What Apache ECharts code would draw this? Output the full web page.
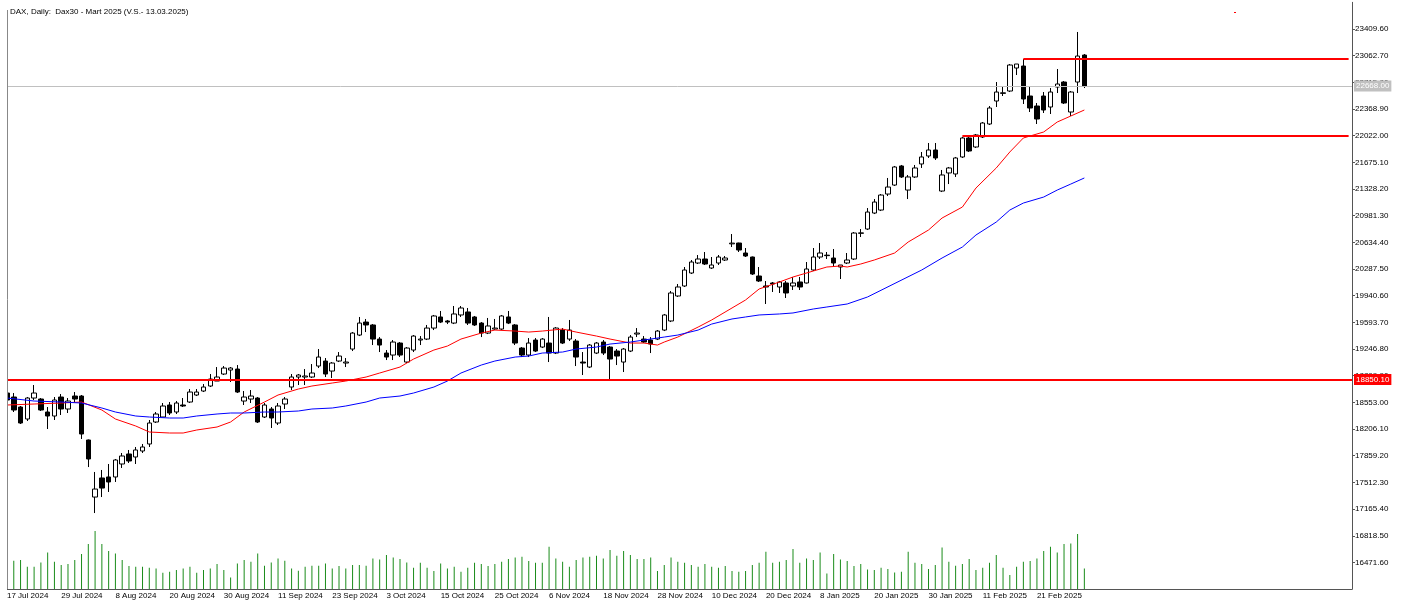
<!DOCTYPE html>
<html>
<head>
<meta charset="utf-8">
<title>DAX Daily</title>
<script src="https://cdn.jsdelivr.net/npm/echarts@6/dist/echarts.min.js"></script>
<style>
  html, body { margin: 0; padding: 0; background: #fff; }
  #chart { width: 1402px; height: 605px; }
</style>
</head>
<body>
<div id="chart"></div>
<script>
// daily OHLC, 17 Jul 2024 .. 4 Mar 2025
var open = [
  18675, 18623, 18493, 18337, 18610, 18597, 18428, 18376, 18623, 18467,
  18636, 18636, 18064, 17322, 17570, 17583, 17583, 17752, 17882, 17843,
  17921, 18012, 18298, 18363, 18519, 18428, 18519, 18558, 18649, 18701,
  18766, 18831, 18922, 18974, 18987, 18571, 18597, 18610, 18363, 18467,
  18285, 18532, 18753, 18883, 18883, 18883, 19026, 19091, 18961, 19091,
  19065, 19247, 19429, 19598, 19560, 19377, 19195, 19169, 19325, 19078,
  19234, 19364, 19377, 19520, 19664, 19612, 19585, 19690, 19729, 19664,
  19585, 19455, 19507, 19507, 19664, 19560, 19260, 19169, 19364, 19273,
  19325, 19195, 19494, 19377, 19351, 19078, 19013, 19195, 19338, 19273,
  19221, 19078, 19221, 19442, 19377, 19364, 19377, 19494, 19612, 19937,
  20067, 20236, 20366, 20418, 20301, 20366, 20405, 20615, 20626, 20496,
  20444, 20197, 20067, 20106, 20054, 20106, 20067, 20119, 20106, 20275,
  20444, 20468, 20431, 20314, 20366, 20418, 20752, 20808, 21016, 21055,
  21263, 21380, 21628, 21315, 21485, 21654, 21758, 21836, 21302, 21537,
  21524, 21745, 21992, 21875, 22005, 22174, 22473, 22572, 22603, 22902,
  22928, 22538, 22408, 22538, 22395, 22655, 22720, 22330, 22720, 23071
]
var high = [
  18688, 18675, 18506, 18623, 18779, 18610, 18493, 18623, 18662, 18610,
  18688, 18649, 18070, 17648, 17674, 17752, 17817, 17895, 17934, 17973,
  18012, 18324, 18428, 18545, 18558, 18571, 18610, 18727, 18727, 18792,
  18922, 19013, 19026, 19013, 19039, 18701, 18714, 18623, 18545, 18493,
  18545, 18623, 18922, 18922, 18987, 19052, 19247, 19130, 19078, 19208,
  19130, 19468, 19664, 19638, 19572, 19403, 19234, 19364, 19338, 19273,
  19429, 19416, 19560, 19690, 19742, 19625, 19807, 19807, 19781, 19677,
  19598, 19651, 19638, 19690, 19742, 19572, 19273, 19390, 19390, 19390,
  19664, 19533, 19520, 19625, 19377, 19208, 19312, 19338, 19364, 19286,
  19247, 19260, 19429, 19520, 19416, 19403, 19494, 19703, 20002, 20093,
  20314, 20405, 20470, 20509, 20444, 20470, 20457, 20743, 20630, 20561,
  20450, 20314, 20132, 20119, 20132, 20132, 20184, 20184, 20379, 20561,
  20626, 20509, 20548, 20340, 20496, 20769, 20808, 21081, 21198, 21263,
  21472, 21628, 21641, 21511, 21641, 21810, 21927, 21927, 21576, 21615,
  21745, 22005, 22005, 22044, 22200, 22408, 22720, 22668, 22954, 22954,
  23019, 22655, 22447, 22590, 22642, 22889, 22733, 22603, 23371, 23084
]
var low = [
  18571, 18428, 18272, 18311, 18584, 18441, 18207, 18324, 18389, 18415,
  18558, 18077, 17712, 17114, 17322, 17388, 17518, 17700, 17765, 17752,
  17895, 17973, 18285, 18363, 18389, 18402, 18493, 18545, 18636, 18688,
  18753, 18831, 18909, 18818, 18675, 18519, 18545, 18285, 18350, 18220,
  18259, 18467, 18714, 18779, 18779, 18870, 19000, 18883, 18870, 19078,
  19013, 19221, 19416, 19468, 19299, 19208, 19104, 19104, 19143, 19065,
  19208, 19299, 19364, 19494, 19585, 19572, 19572, 19664, 19560, 19547,
  19403, 19442, 19494, 19494, 19572, 19299, 19143, 19143, 19208, 19260,
  19078, 19182, 19312, 19351, 19026, 18909, 19000, 19182, 19169, 18857,
  19039, 18948, 19208, 19403, 19325, 19195, 19364, 19481, 19598, 19924,
  20054, 20223, 20353, 20340, 20288, 20340, 20392, 20574, 20509, 20444,
  20210, 20119, 19833, 19989, 19976, 19911, 20015, 20015, 20100, 20262,
  20418, 20418, 20327, 20158, 20353, 20405, 20704, 20795, 21003, 21042,
  21237, 21368, 21472, 21198, 21472, 21602, 21732, 21706, 21289, 21393,
  21485, 21732, 21810, 21862, 21992, 22161, 22395, 22538, 22590, 22811,
  22434, 22330, 22174, 22317, 22304, 22577, 22434, 22278, 22577, 22642
]
var close = [
  18584, 18454, 18285, 18610, 18675, 18454, 18376, 18584, 18467, 18571,
  18597, 18142, 17817, 17426, 17439, 17518, 17804, 17856, 17791, 17934,
  17973, 18285, 18402, 18506, 18415, 18545, 18506, 18688, 18688, 18753,
  18857, 18883, 19000, 19000, 18688, 18623, 18636, 18298, 18519, 18350,
  18506, 18597, 18883, 18909, 18896, 18935, 19143, 18922, 19065, 19156,
  19078, 19455, 19585, 19560, 19377, 19299, 19143, 19338, 19169, 19260,
  19416, 19377, 19520, 19677, 19598, 19598, 19703, 19781, 19585, 19560,
  19455, 19547, 19520, 19677, 19585, 19325, 19169, 19325, 19221, 19377,
  19195, 19520, 19325, 19494, 19143, 19065, 19299, 19325, 19195, 19117,
  19156, 19247, 19403, 19455, 19338, 19312, 19481, 19690, 19976, 20054,
  20275, 20379, 20418, 20353, 20340, 20444, 20431, 20625, 20535, 20457,
  20223, 20132, 20054, 20093, 20119, 19976, 20106, 20054, 20288, 20444,
  20496, 20462, 20366, 20340, 20405, 20756, 20758, 21029, 21159, 21250,
  21354, 21615, 21485, 21485, 21602, 21745, 21836, 21732, 21511, 21602,
  21732, 21992, 21823, 22031, 22187, 22382, 22590, 22580, 22941, 22954,
  22499, 22382, 22239, 22356, 22590, 22694, 22447, 22590, 23058, 22668
]
// tick volume
var volume = [
  27000, 28300, 29000, 22300, 22300, 26700, 36700, 27300, 24000, 25000,
  29000, 35000, 45000, 58000, 45000, 38000, 35700, 29000, 23000, 22300,
  22300, 21300, 20700, 16300, 17300, 19000, 20700, 22300, 16300, 19000,
  20700, 25000, 19000, 11700, 25700, 29000, 27300, 35700, 23300, 26700,
  30700, 28300, 20700, 18300, 22300, 23300, 23300, 25700, 20700, 23000,
  20700, 24000, 24000, 23300, 30700, 29700, 34000, 31700, 30000, 26700,
  21300, 26300, 21300, 18000, 25700, 20700, 22300, 17300, 21300, 26300,
  25000, 23000, 25000, 27300, 30000, 31700, 32300, 28000, 26300, 26300,
  42300, 30700, 27300, 22300, 29000, 31700, 32300, 33300, 30700, 39000,
  33300, 38000, 34000, 30000, 30000, 31700, 18000, 24000, 31700, 27300,
  26300, 24000, 22300, 25000, 22300, 21300, 23000, 18000, 17300, 18000,
  24000, 26300, 37300, 26300, 27300, 29000, 40000, 26300, 30700, 29000,
  36700, 15700, 35000, 29700, 28000, 23000, 25000, 19700, 19000, 21300,
  20000, 16700, 17300, 37300, 26300, 25000, 20000, 24000, 41700, 27300,
  23300, 25000, 30000, 19000, 21300, 26300, 34000, 21300, 14000, 22300,
  27300, 28000, 30700, 38000, 42300, 36700, 45000, 45700, 55000, 20700
]
// moving averages: [bar index, value]
var maRed = [
  [0, 18519], [4, 18532], [8, 18545], [11, 18558], [14, 18454], [16, 18337], [19, 18246], [21, 18168],
  [24, 18155], [26, 18155], [28, 18194], [31, 18233], [33, 18298], [35, 18428], [38, 18558], [40, 18649],
  [43, 18727], [45, 18766], [48, 18805], [50, 18831], [53, 18883], [55, 18935], [58, 19013], [60, 19117],
  [63, 19234], [65, 19286], [67, 19377], [70, 19455], [72, 19494], [75, 19481], [77, 19468], [79, 19481],
  [82, 19507], [84, 19468], [87, 19416], [89, 19377], [92, 19325], [94, 19325], [96, 19299], [97, 19338],
  [99, 19403], [102, 19533], [104, 19625], [107, 19781], [109, 19885], [111, 20028], [114, 20119], [116, 20184],
  [119, 20262], [121, 20314], [123, 20327], [124, 20314], [126, 20353], [128, 20405], [131, 20496], [133, 20639],
  [136, 20795], [138, 20951], [141, 21094], [143, 21341], [146, 21602], [148, 21810], [150, 21992], [153, 22070],
  [155, 22200], [157, 22278], [159, 22356]
]
var maBlue = [
  [0, 18610], [4, 18571], [8, 18558], [11, 18545], [14, 18480], [16, 18428], [19, 18376], [21, 18363],
  [24, 18350], [26, 18350], [28, 18376], [31, 18402], [33, 18415], [35, 18415], [38, 18428], [40, 18428],
  [43, 18441], [45, 18467], [48, 18480], [50, 18506], [53, 18558], [55, 18610], [58, 18636], [60, 18675],
  [63, 18753], [65, 18831], [67, 18935], [70, 19039], [72, 19091], [75, 19143], [77, 19156], [79, 19195],
  [82, 19208], [84, 19247], [87, 19273], [89, 19312], [92, 19338], [94, 19364], [97, 19403], [99, 19429],
  [102, 19494], [104, 19572], [107, 19638], [109, 19664], [111, 19690], [114, 19703], [116, 19716], [119, 19768],
  [121, 19794], [124, 19833], [127, 19924], [135, 20275], [138, 20431], [141, 20574], [143, 20730], [146, 20899],
  [148, 21055], [150, 21146], [153, 21224], [155, 21315], [157, 21393], [159, 21472]
]
// horizontal levels
var supportLevel = 18850.10
var bidPrice = 22668.00
var midLevel = 22022.00
var topLevel = 23019
// price scale
var priceMin = 16124.7
var priceStep = 346.9
var priceMax = 23756.5

var closedDays = ['2024-12-24', '2024-12-25', '2024-12-26', '2024-12-31', '2025-01-01']
var monthNames = ['Jan', 'Feb', 'Mar', 'Apr', 'May', 'Jun', 'Jul', 'Aug', 'Sep', 'Oct', 'Nov', 'Dec']
var barCount = open.length
var emptySlots = 39 // free space right of the last bar

var categories = []
var d = new Date(Date.UTC(2024, 6, 17))
while (categories.length < barCount) {
  var iso = d.toISOString().slice(0, 10)
  var wd = d.getUTCDay()
  if (wd !== 0 && wd !== 6 && closedDays.indexOf(iso) < 0) {
    categories.push(d.getUTCDate() + ' ' + monthNames[d.getUTCMonth()] + ' ' + d.getUTCFullYear())
  }
  d.setUTCDate(d.getUTCDate() + 1)
}
for (var k = 0; k < emptySlots; k++) categories.push('pad' + k)

var candles = open.map(function(o, i) { return [o, close[i], low[i], high[i]] })

var font = 'Liberation Sans'
var labelEvery = function(index) { return index < barCount && index % 8 === 0 }

var chart = echarts.init(document.getElementById('chart'))
var option = {
  animation: false,
  backgroundColor: '#fff',
  title: {
    text: 'DAX, Daily:  Dax30 - Mart 2025 (V.S.- 13.03.2025)',
    left: 10,
    top: 8,
    padding: 0,
    textStyle: { fontFamily: font, fontSize: 8, fontWeight: 'normal', color: '#000' }
  },
  grid: [
    { left: 3.612, right: 50, top: 2.33, bottom: 15.9 },
    { left: 3.612, right: 50, bottom: 15.9, height: 100 }
  ],
  xAxis: [
    {
      type: 'category',
      data: categories,
      boundaryGap: true,
      axisLine: { lineStyle: { color: '#555' } },
      axisTick: { alignWithLabel: true, length: 3, interval: labelEvery, lineStyle: { color: '#555' } },
      axisLabel: {
        interval: labelEvery,
        align: 'left',
        margin: 3,
        fontFamily: font,
        fontSize: 8,
        color: '#000'
      },
      splitLine: { show: false }
    },
    { type: 'category', gridIndex: 1, data: categories, show: false }
  ],
  yAxis: [
    {
      type: 'value',
      position: 'right',
      min: priceMin,
      max: priceMax,
      interval: priceStep,
      axisLine: { show: true, lineStyle: { color: '#555' } },
      axisTick: { show: true, length: 3, lineStyle: { color: '#555' } },
      axisLabel: {
        showMinLabel: false,
        showMaxLabel: false,
        margin: 3,
        fontFamily: font,
        fontSize: 8,
        color: '#000',
        formatter: function(v) { return v.toFixed(2) }
      },
      splitLine: { show: false }
    },
    { type: 'value', gridIndex: 1, min: 0, max: 100000, show: false }
  ],
  graphic: [
    // the chart window starts at the first bar; hide what falls left of it
    { type: 'rect', shape: { x: 0, y: 0, width: 7, height: 590 }, style: { fill: '#fff' }, silent: true, z: 100 },
    { type: 'line', shape: { x1: 7.5, y1: 10, x2: 7.5, y2: 589 }, style: { stroke: '#888', lineWidth: 1 }, silent: true, z: 101 },
    { type: 'rect', shape: { x: 1234, y: 12, width: 2, height: 1 }, style: { fill: '#ff0000' }, silent: true }
  ],
  series: [
    {
      name: 'Volume',
      type: 'bar',
      xAxisIndex: 1,
      yAxisIndex: 1,
      barWidth: 1,
      itemStyle: { color: '#1a8c1a' },
      data: volume
    },
    {
      name: 'DAX',
      type: 'candlestick',
      barWidth: 5,
      itemStyle: {
        color: '#fff',
        color0: '#000',
        borderColor: '#000',
        borderColor0: '#000',
        borderWidth: 1
      },
      data: candles,
      markLine: {
        symbol: 'none',
        silent: true,
        animation: false,
        data: [
          {
            yAxis: supportLevel,
            lineStyle: { color: '#ff0000', width: 2, type: 'solid' },
            label: {
              show: true, position: 'end', distance: 2,
              formatter: supportLevel.toFixed(2),
              backgroundColor: '#ff0000', color: '#fff',
              fontFamily: font, fontSize: 8, lineHeight: 9, padding: [1, 2, 1, 2]
            }
          },
          {
            yAxis: bidPrice,
            lineStyle: { color: '#c0c0c0', width: 1, type: 'solid' },
            label: {
              show: true, position: 'end', distance: 2,
              formatter: bidPrice.toFixed(2),
              backgroundColor: '#c0c0c0', color: '#fff',
              fontFamily: font, fontSize: 8, lineHeight: 9, padding: [1, 2, 1, 2]
            }
          },
          [
            { coord: [141, midLevel], lineStyle: { color: '#ff0000', width: 2, type: 'solid' }, label: { show: false } },
            { coord: [barCount + emptySlots - 1, midLevel] }
          ],
          [
            { coord: [150, topLevel], lineStyle: { color: '#ff0000', width: 2, type: 'solid' }, label: { show: false } },
            { coord: [barCount + emptySlots - 1, topLevel] }
          ]
        ]
      }
    },
    {
      name: 'MA fast',
      type: 'line',
      data: maRed,
      symbol: 'none',
      lineStyle: { color: '#ff0000', width: 1 },
      z: 3
    },
    {
      name: 'MA slow',
      type: 'line',
      data: maBlue,
      symbol: 'none',
      lineStyle: { color: '#0000ff', width: 1 },
      z: 3
    }
  ]
}
chart.setOption(option)
window.addEventListener('resize', function() {
  chart.resize()
})
</script>
</body>
</html>
